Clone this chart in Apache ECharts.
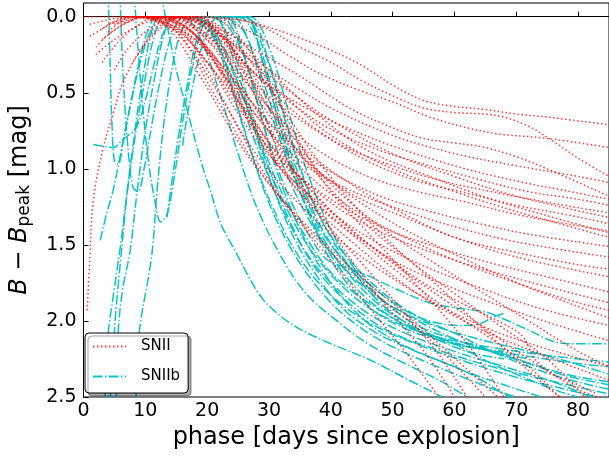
<!DOCTYPE html>
<html>
<head>
<meta charset="utf-8">
<script src="https://cdn.jsdelivr.net/npm/echarts@6/dist/echarts.min.js"></script>
<style>
  html, body { margin: 0; padding: 0; background: #fff; }
  #chart { width: 609px; height: 457px; }
</style>
</head>
<body>
<div id="chart"></div>
<script>
// tick values
var xTicks = [0, 10, 20, 30, 40, 50, 60, 70, 80]
var yTicks = [0, 0.5, 1.0, 1.5, 2.0, 2.5]

// SNII light curves, [phase, B - Bpeak]
var snII = [
  [[17,0],[25,0.02],[30,0.07],[35,0.14],[40,0.22],[45,0.32],[50,0.45],[55,0.55],[60,0.59],[65,0.61],[70,0.64],[75,0.66],[85,0.71]],
  [[22,0],[28,0.05],[35,0.2],[40,0.3],[45,0.42],[50,0.52],[55,0.6],[60,0.63],[65,0.64],[68,0.66],[72,0.72],[76,0.82],[80,0.93],[85,1.05]],
  [[15,0],[20,0],[27,0.1],[33,0.25],[38,0.37],[45,0.49],[50,0.56],[56,0.66],[62,0.73],[67,0.77],[75,0.8],[85,0.86]],
  [[12,0],[18,0.02],[23,0.1],[27,0.2],[35,0.39],[43,0.6],[50,0.73],[55,0.8],[60,0.83],[65,0.86],[70,0.92],[75,1.0],[85,1.18]],
  [[9,0],[15,0],[20,0.08],[25,0.2],[30,0.35],[35,0.48],[40,0.6],[50,0.78],[60,0.9],[70,0.98],[80,1.05],[85,1.09]],
  [[7,0],[13,0],[18,0.08],[24,0.25],[30,0.45],[36,0.6],[42,0.72],[50,0.85],[60,0.98],[70,1.08],[80,1.16],[85,1.2]],
  [[11,0],[17,0.02],[22,0.15],[28,0.38],[34,0.58],[40,0.74],[48,0.88],[56,0.98],[64,1.07],[72,1.15],[80,1.2],[85,1.24]],
  [[6,0.05],[10,0],[16,0.02],[22,0.2],[28,0.45],[34,0.65],[42,0.85],[50,0.98],[58,1.08],[66,1.15],[75,1.22],[85,1.29]],
  [[14,0],[20,0.05],[26,0.3],[32,0.55],[38,0.75],[46,0.95],[54,1.08],[62,1.16],[70,1.24],[78,1.3],[85,1.36]],
  [[4,0.1],[8,0],[14,0],[20,0.15],[26,0.42],[32,0.68],[38,0.88],[46,1.05],[54,1.15],[62,1.22],[70,1.3],[78,1.36],[85,1.41]],
  [[10,0],[16,0.05],[22,0.3],[28,0.6],[34,0.85],[40,1.02],[48,1.18],[56,1.28],[64,1.36],[72,1.43],[85,1.51]],
  [[6,0],[12,0],[18,0.15],[24,0.45],[30,0.75],[36,0.98],[42,1.12],[50,1.25],[60,1.38],[70,1.48],[85,1.58]],
  [[13,0],[19,0.05],[25,0.35],[31,0.7],[37,0.98],[44,1.18],[52,1.32],[60,1.45],[70,1.58],[85,1.71]],
  [[3,0.08],[8,0],[14,0.05],[20,0.3],[26,0.65],[32,0.95],[40,1.2],[48,1.38],[56,1.5],[66,1.62],[76,1.72],[85,1.81]],
  [[11,0],[17,0.08],[23,0.4],[29,0.78],[35,1.05],[42,1.28],[50,1.45],[60,1.6],[70,1.72],[85,1.88]],
  [[8,0],[14,0.03],[20,0.3],[26,0.7],[32,1.0],[38,1.22],[46,1.45],[54,1.62],[64,1.78],[74,1.92],[85,2.03]],
  [[15,0],[21,0.15],[27,0.55],[33,0.95],[40,1.28],[48,1.55],[56,1.72],[66,1.88],[76,2.02],[85,2.13]],
  [[9,0],[15,0.1],[21,0.45],[27,0.85],[33,1.15],[40,1.42],[50,1.72],[60,1.95],[70,2.12],[85,2.3]],
  [[12,0],[18,0.12],[24,0.5],[30,0.9],[36,1.2],[44,1.5],[54,1.82],[64,2.05],[74,2.22],[85,2.39]],
  [[10,0],[16,0.1],[22,0.5],[28,0.95],[34,1.3],[40,1.6],[46,1.9],[52,2.2],[57.5,2.5]],
  [[14,0],[20,0.2],[26,0.62],[32,1.0],[38,1.3],[45,1.62],[52,1.95],[58,2.25],[62,2.5]],
  [[7,0],[13,0.05],[19,0.4],[25,0.82],[31,1.15],[38,1.45],[46,1.75],[54,2.02],[61,2.28],[67,2.5]],
  [[16,0],[22,0.25],[28,0.7],[34,1.05],[40,1.32],[48,1.55],[55,1.75],[62,1.9],[68,2.02],[71,2.1],[73,2.25],[76,2.35],[80,2.42],[83,2.48]],
  [[5,0.05],[10,0],[16,0.05],[22,0.35],[28,0.75],[34,1.08],[42,1.38],[50,1.65],[58,1.9],[66,2.12],[72,2.3],[77,2.5]],
  [[18,0],[24,0.2],[30,0.6],[36,0.95],[44,1.3],[52,1.58],[60,1.82],[68,2.05],[75,2.25],[81,2.5]],
  [[20,0.02],[25,0.3],[30,0.72],[35,1.08],[40,1.4],[46,1.75],[52,2.05],[56,2.25],[60,2.5]],
  [[4,0.05],[9,0],[15,0.1],[21,0.5],[27,0.92],[33,1.25],[40,1.55],[48,1.85],[56,2.12],[65,2.5]],
  [[0.6,1.93],[1,1.6],[1.6,1.2],[3.2,0.86],[5,0.61],[6.4,0.43],[10,0.17],[14,0.02],[18,0],[22,0.1],[26,0.35],[30,0.6],[36,0.88],[44,1.12],[52,1.3],[60,1.45],[70,1.55],[80,1.63],[85,1.66]],
  [[1,0.13],[3,0.08],[5,0.03],[8,0],[14,0],[20,0.05],[26,0.25],[32,0.5],[40,0.78],[50,1.0],[60,1.15],[70,1.28],[85,1.45]],
  [[0,0],[4,0],[8,0],[12,0.02],[18,0.15],[24,0.4],[30,0.7],[36,0.95],[44,1.2],[52,1.4],[62,1.6],[72,1.78],[85,1.98]],
  [[2,0.2],[4,0.12],[7,0.04],[10,0],[15,0],[20,0.05],[26,0.25],[32,0.45],[40,0.68],[50,0.9],[60,1.05],[70,1.18],[85,1.32]],
  [[3,0.3],[6,0.15],[9,0.05],[12,0],[18,0],[24,0.12],[30,0.35],[38,0.65],[46,0.88],[56,1.05],[66,1.2],[76,1.32],[85,1.42]],
  [[2,0.25],[4,0.18],[7,0.1],[10,0.04],[14,0],[18,0.02],[22,0.12],[26,0.3],[30,0.55],[35,0.85],[40,1.1],[48,1.38],[56,1.6],[64,1.8],[72,2.0],[80,2.2],[85,2.3]],
  [[5,0.35],[7,0.22],[10,0.1],[13,0.03],[16,0],[20,0.03],[24,0.15],[28,0.35],[33,0.65],[38,0.95],[44,1.25],[50,1.5],[56,1.72],[62,1.95],[68,2.18],[74,2.4],[77,2.5]],
  [[1,0.05],[4,0.02],[8,0],[12,0.03],[16,0.12],[20,0.3],[25,0.55],[30,0.82],[36,1.1],[42,1.35],[50,1.62],[58,1.85],[66,2.08],[72,2.25],[80,2.45],[83,2.5]],
  [[8,0.3],[10,0.18],[13,0.06],[16,0],[20,0],[24,0.08],[28,0.3],[32,0.6],[36,0.9],[40,1.15],[46,1.42],[52,1.68],[58,1.95],[63,2.2],[68,2.5]],
  [[3,0.15],[6,0.06],[9,0.01],[12,0],[16,0.05],[20,0.2],[24,0.42],[28,0.65],[33,0.9],[38,1.1],[45,1.3],[52,1.45],[60,1.6],[70,1.75],[80,1.88],[85,1.93]]
]

// SNIIb light curves
var snIIb = [
  [[1.6,0.84],[3,0.85],[4.8,0.86],[6.3,0.81],[8.5,0.73],[10,0.55],[11.5,0.3],[13,0.1],[15,0],[20,0],[25,0.05],[28,0.3],[32,0.8],[36,1.25],[40,1.6],[46,1.9],[52,2.05],[60,2.15],[70,2.22],[80,2.28],[85,2.3]],
  [[2.7,1.47],[3.7,1.3],[4.8,1.14],[6,0.9],[7.5,0.6],[9,0.3],[10.5,0.08],[12,0],[17,0],[21,0.1],[24,0.35],[28,0.75],[32,1.15],[36,1.45],[40,1.68],[45,1.85],[50,1.98],[55,2.08],[60,2.13],[70,2.2],[80,2.25],[85,2.27]],
  [[4.3,2.52],[4.8,2.2],[5.2,1.95],[6,1.6],[7.1,1.14],[8,0.85],[9,0.55],[10,0.3],[11,0.1],[12.5,0],[16,0],[20,0.08],[24,0.4],[28,0.85],[32,1.25],[36,1.55],[40,1.75],[46,1.95],[52,2.08],[60,2.2],[68,2.3],[76,2.4],[82,2.5]],
  [[3.5,2.5],[4,2.08],[4.8,1.84],[6,1.5],[7.1,1.14],[8.5,0.75],[10,0.4],[11.5,0.12],[13,0],[18,0],[22,0.15],[26,0.55],[30,1.0],[34,1.35],[38,1.6],[44,1.85],[50,2.0],[58,2.12],[66,2.2],[72,2.25]],
  [[5.3,2.5],[5.6,2.08],[6.3,1.8],[7.5,1.55],[8.7,1.14],[10,0.75],[11.5,0.4],[13,0.12],[14.5,0],[20,0],[24,0.1],[28,0.5],[32,0.95],[36,1.3],[40,1.55],[46,1.8],[52,1.95],[58,2.05],[64,2.12],[70,2.18],[76,2.24],[85,2.35]],
  [[8.5,2.5],[9,2.08],[11,1.58],[11.9,1.14],[13,0.7],[14.5,0.3],[16,0.08],[18,0],[24,0],[27,0.2],[30,0.6],[34,1.05],[38,1.4],[42,1.65],[48,1.9],[54,2.05],[60,2.15],[66,2.28],[70,2.35],[76,2.45],[80,2.5]],
  [[13.5,1.32],[14.1,1.14],[15.5,0.75],[17,0.4],[18.5,0.12],[20,0],[25,0],[28,0.15],[31,0.55],[34,0.95],[38,1.35],[42,1.6],[48,1.85],[55,2.02],[62,2.15],[70,2.25],[78,2.35],[85,2.4]],
  [[16,0.85],[17,0.6],[18.5,0.3],[20,0.1],[22,0],[26,0],[29,0.2],[32,0.6],[35,1.0],[38,1.3],[42,1.55],[48,1.8],[54,1.97],[60,2.08],[66,2.2],[72,2.3],[78,2.38],[85,2.45]],
  [[12.5,-0.15],[13.5,0.05],[15,0.35],[17,0.65],[19,0.95],[20.5,1.14],[22.2,1.36],[24.4,1.53],[28,1.8],[30,1.9],[34,2.03],[40,2.15],[46,2.25],[52.7,2.39],[58,2.5]],
  [[5.9,-0.15],[6.3,0.3],[6.8,0.65],[7.4,0.95],[8,1.12],[8.8,1.15],[9.8,1.0],[11,0.72],[12.5,0.4],[14,0.15],[15.5,0.02],[17,0],[21,0],[24,0.2],[27,0.6],[30,1.0],[34,1.4],[38,1.68],[44,1.92],[50,2.08],[58,2.2],[66,2.3],[74,2.38],[85,2.48]],
  [[4,-0.15],[4.3,0.3],[4.6,0.7],[5,0.95],[5.6,0.97],[6.5,0.8],[8,0.5],[9.5,0.25],[11,0.08],[12.5,0],[17,0],[20,0.05],[23,0.35],[26,0.75],[29,1.1],[33,1.45],[37,1.7],[42,1.9],[48,2.05],[55,2.17],[62,2.27],[70,2.37],[78,2.45],[83,2.5]],
  [[8.2,-0.15],[8.8,0.2],[9.6,0.6],[10.5,0.95],[11.5,1.2],[12.5,1.35],[13.5,1.3],[14.5,1.1],[16,0.7],[17.5,0.35],[19,0.1],[20.5,0],[26,0],[29,0.3],[32,0.75],[35,1.15],[39,1.5],[44,1.78],[50,1.98],[56,2.1],[62,2.2],[68,2.25]],
  [[16,0],[22,0],[25,0.15],[28,0.55],[31,0.95],[34,1.25],[37,1.47],[39.5,1.6],[44.8,1.68],[50,1.78],[55.9,1.88],[59.5,1.91],[65,1.94],[67,1.97],[72,2.06],[76.5,2.14],[80,2.15],[85,2.15]],
  [[20,0],[26,0],[29,0.3],[32,0.75],[36,1.2],[40,1.5],[46,1.75],[52,1.93],[56,2.0],[61,2.03],[64,2.02],[66,1.98],[68,1.95]],
  [[22,0],[27,0.02],[30,0.3],[33,0.72],[36,1.1],[40,1.45],[45,1.75],[50,1.95],[56,2.1],[62,2.17],[68,2.2]],
  [[24,0],[27,0],[30,0.2],[33,0.6],[36,1.0],[40,1.4],[45,1.72],[50,1.92],[55,2.05],[60,2.12],[66,2.2],[72,2.28],[78,2.36],[85,2.42]],
  [[19,0],[23,0],[26,0.25],[29,0.7],[32,1.1],[36,1.48],[40,1.75],[45,1.98],[50,2.12],[55,2.22],[60,2.3],[64,2.38],[68,2.48],[70,2.52]],
  [[17,0],[21,0],[24,0.25],[27,0.65],[30,1.05],[34,1.45],[38,1.72],[42,1.92],[47,2.07],[52,2.17],[58,2.27],[63,2.35],[68,2.42],[74,2.5]],
  [[15,0],[19,0],[22,0.2],[25,0.6],[28,1.0],[31,1.32],[35,1.62],[40,1.88],[45,2.05],[50,2.17],[56,2.28],[62,2.38],[67,2.46],[70,2.5]],
  [[12,0],[16,0],[19,0.15],[22,0.5],[25,0.9],[28,1.25],[32,1.58],[36,1.82],[41,2.0],[46,2.15],[52,2.28],[58,2.4],[62,2.5]]
]

var redLine = 'rgba(255,0,0,0.78)'
var cyanLine = '#00bfbf'

var chart = echarts.init(document.getElementById('chart'))

var series = []
snIIb.forEach(function (pts) {
  series.push({
    name: 'SNIIb',
    type: 'line',
    data: pts,
    symbol: 'none',
    smooth: 0.35,
    lineStyle: { color: cyanLine, width: 1.5, type: [9.6, 2.4, 1.5, 2.4], cap: 'butt', opacity: 0.95 },
    itemStyle: { color: cyanLine }
  })
})
snII.forEach(function (pts) {
  series.push({
    name: 'SNII',
    type: 'line',
    data: pts,
    symbol: 'none',
    smooth: 0.35,
    lineStyle: { color: redLine, width: 1.5, type: [1.5, 2.5], cap: 'butt' },
    itemStyle: { color: redLine }
  })
})

chart.setOption({
  animation: false,
  textStyle: { fontFamily: 'DejaVu Sans' },
  grid: {
    left: 78,
    top: 3,
    right: -4,
    bottom: 60,
    show: true,
    borderColor: '#000',
    borderWidth: 1
  },
  legend: {
    data: ['SNII', 'SNIIb'],
    orient: 'vertical',
    left: 85,
    top: 333,
    padding: [6, 8, 9, 7],
    itemWidth: 33,
    itemHeight: 12,
    itemGap: 15,
    backgroundColor: '#fff',
    borderColor: '#000',
    borderWidth: 1,
    borderRadius: 4,
    shadowColor: 'rgba(0,0,0,0.35)',
    shadowOffsetX: 3,
    shadowOffsetY: 3,
    shadowBlur: 0,
    itemStyle: { color: 'rgba(0,0,0,0)', borderWidth: 0, opacity: 0 },
    textStyle: { fontSize: 15, color: '#000', padding: [0, 0, 0, 10] }
  },
  xAxis: {
    type: 'value',
    min: 0,
    max: 85,
    name: 'phase [days since explosion]',
    nameLocation: 'middle',
    nameGap: 27,
    nameTextStyle: { fontSize: 24, color: '#000' },
    axisLine: { lineStyle: { color: '#000' } },
    axisTick: { inside: true, length: 5, customValues: xTicks, lineStyle: { color: '#000' } },
    axisLabel: { customValues: xTicks, fontSize: 19, color: '#000', margin: 5 },
    splitLine: { show: false }
  },
  yAxis: {
    type: 'value',
    inverse: true,
    min: -0.09,
    max: 2.5,
    name: '{i|B} − {i|B}{s|peak} [mag]',
    nameLocation: 'middle',
    nameRotate: 90,
    nameGap: 50,
    nameTextStyle: {
      fontSize: 24,
      color: '#000',
      rich: {
        i: { fontSize: 24, fontStyle: 'italic', color: '#000' },
        s: { fontSize: 17, color: '#000', padding: [10, 0, 0, 0] }
      }
    },
    axisLine: { lineStyle: { color: '#000' } },
    axisTick: { inside: true, length: 5, customValues: yTicks, lineStyle: { color: '#000' } },
    axisLabel: {
      customValues: yTicks,
      fontSize: 19,
      color: '#000',
      margin: 7,
      formatter: function (v) { return v.toFixed(1) }
    },
    splitLine: { show: false }
  },
  series: series
})
</script>
</body>
</html>
